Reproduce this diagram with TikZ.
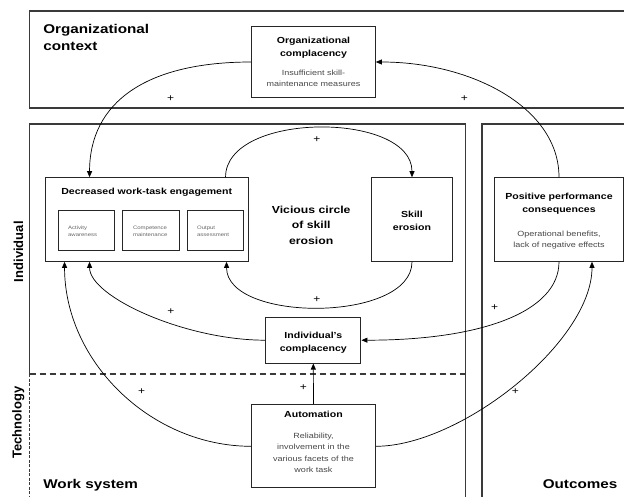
\documentclass[tikz,border=0pt]{standalone}
\usepackage{fontspec}
\setmainfont{Liberation Sans}[FakeStretch=1.2]
\newfontfamily\sidefont{Liberation Sans}
\usetikzlibrary{arrows,arrows.meta}
\definecolor{framegray}{HTML}{3A3A3A}
\definecolor{notegray}{HTML}{474747}
\definecolor{subgray}{HTML}{666666}

\begin{document}
\begin{tikzpicture}[x=1pt, y=-1pt, line width=0.7pt, >={Triangle[length=6pt, width=5pt]},
	frame/.style={draw=framegray, line width=1.3pt},
	box/.style={draw=black!85, line width=1pt, inner sep=0pt},
	head/.style={font=\fontsize{8.8}{13.2}\selectfont\bfseries, align=center, inner sep=0pt},
	note/.style={font=\fontsize{7.5}{11.3}\selectfont, text=notegray, align=center, inner sep=0pt},
	subnote/.style={font=\fontsize{5}{7}\selectfont, text=subgray, align=left, inner sep=0pt, anchor=north west},
	region/.style={font=\fontsize{12.7}{17.4}\selectfont\bfseries, align=left, inner sep=0pt},
	side/.style={font=\sidefont\fontsize{13}{13}\selectfont\bfseries, rotate=90, inner sep=0pt},
	plus/.style={font=\fontsize{10}{10}\selectfont, inner sep=0pt}]
		\useasboundingbox (0,0) rectangle (624,497);
		
		\draw[frame] (640,11) -- (29.5,11) -- (29.5,108) -- (640,108); % Организация
		\draw[frame] (29.5,374) -- (29.5,124) -- (465.5,124) -- (465.5,510); % Рабочая система
		\draw[frame, line width=1pt, dash pattern=on 3pt off 1.5pt] (29.5,374) -- (29.5,510);
		\draw[frame, dash pattern=on 6.5pt off 3.5pt] (29.5,374) -- (465.5,374);
		\draw[frame] (640,124) -- (482,124) -- (482,510); % Результаты
		
		\node[box, minimum width=123.6pt, minimum height=70.6pt] (orgcomp) at (313.5,62) {};
		\node[box, minimum width=203.3pt, minimum height=83.6pt] (engage) at (146.7,219.5) {};
		\node[box, minimum width=56pt, minimum height=40pt] (activity) at (86.3,230.7) {};
		\node[box, minimum width=56.3pt, minimum height=40pt] (competence) at (150.9,230.7) {};
		\node[box, minimum width=56pt, minimum height=40pt] (output) at (215.3,230.7) {};
		\node[box, minimum width=81.4pt, minimum height=83.6pt] (skill) at (412,219.5) {};
		\node[box, minimum width=128.6pt, minimum height=83.6pt] (perform) at (559,219.5) {};
		\node[box, minimum width=95.3pt, minimum height=45.7pt] (indcomp) at (313.3,340.2) {};
		\node[box, minimum width=123.6pt, minimum height=83.3pt] (auto) at (313.5,446.3) {};
		
		\draw[->] (orgcomp.west) .. controls +(-105,0) and +(0,-75) .. ([xshift=45pt]engage.north west);
		\draw[->] (perform.north) .. controls +(0,-70) and +(95,0) .. (orgcomp.east);
		\draw[->] ([xshift=-23.3pt]engage.north east) .. controls +(0,-66) and +(0,-66) .. (skill.north); % Порочный круг
		\draw[->] (skill.south) .. controls +(0,61) and +(0,61) .. ([xshift=-22.3pt]engage.south east);
		\draw[->] (indcomp.west) .. controls +(-80,0) and +(0,35) .. ([xshift=45pt]engage.south west);
		\draw[->] (auto.west) .. controls +(-100,0) and +(0,100) .. ([xshift=20pt]engage.south west);
		\draw[->] (auto.east) .. controls +(85,0) and +(0,80) .. ([xshift=33pt]perform.south);
		\draw[->] (perform.south) .. controls +(0,50) and +(120,0) .. (indcomp.east);
		\draw[->] (auto.north) -- (indcomp.south);
		
		\node[region, anchor=north west] (ctxlabel) at (43,24) {Organizational\\context};
		\node[region, anchor=base west] (wslabel) at (43,488.7) {Work system};
		\node[region, anchor=base east] (outlabel) at (617.7,488.3) {Outcomes};
		\node[side] (indlabel) at (18.4,251.7) {Individual};
		\node[side] (techlabel) at (18.4,422.5) {Technology};
		\node[font=\fontsize{10.2}{15.7}\selectfont\bfseries, align=center, inner sep=0pt, anchor=north] (vicious) at (311.2,205.3) {Vicious circle\\of skill\\erosion};
		
		\node[head, anchor=north] (orgcomp-h) at (313.5,36.3) {Organizational\\complacency};
		\node[note, anchor=north] (orgcomp-n) at (313.5,69.8) {Insufficient skill-\\maintenance measures};
		\node[head, anchor=base] (engage-h) at (146.7,195) {Decreased work-task engagement};
		\node[subnote] (activity-t) at (67.8,225.6) {Activity\\awareness};
		\node[subnote] (competence-t) at (132.7,225.6) {Competence\\maintenance};
		\node[subnote] (output-t) at (196.8,225.6) {Output\\assessment};
		\node[head, anchor=north] (skill-h) at (412,210.3) {Skill\\erosion};
		\node[head, anchor=north] (perform-h) at (559,192.6) {Positive performance\\consequences};
		\node[note, anchor=north] (perform-n) at (559,230.5) {Operational benefits,\\lack of negative effects};
		\node[head, anchor=north] (indcomp-h) at (313.3,331.6) {Individual's\\complacency};
		\node[head, anchor=base] (auto-h) at (313.5,417.3) {Automation};
		\node[note, anchor=north] (auto-n) at (313.5,432.8) {Reliability,\\involvement in the\\various facets of the\\work task};
		
		\node[plus] (plus1) at (170.7,99) {+};
		\node[plus] (plus2) at (464.3,99) {+};
		\node[plus] (plus3) at (317,140) {+};
		\node[plus] (plus4) at (317,299.7) {+};
		\node[plus] (plus5) at (171,312) {+};
		\node[plus] (plus6) at (494.7,307.3) {+};
		\node[plus] (plus7) at (141.7,391.3) {+};
		\node[plus] (plus8) at (303.3,388) {+};
		\node[plus] (plus9) at (515.3,391.3) {+};
\end{tikzpicture}
\end{document}
